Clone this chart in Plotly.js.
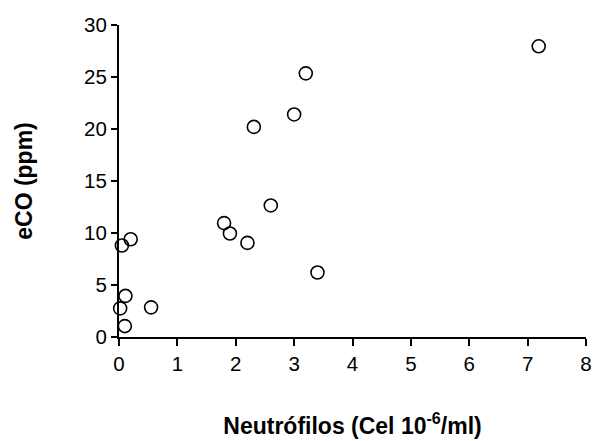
<!DOCTYPE html>
<html><head><meta charset="utf-8">
<script src="https://cdn.plot.ly/plotly-3.0.1.min.js"></script>
<style>html,body{margin:0;padding:0;background:#fff}#c{width:595px;height:441px}</style>
</head><body><div id="c"></div>
<script>
const neutrofilos = [7.19, 3.20, 3.00, 2.31, 2.60, 1.80, 1.90, 2.20, 3.40, 0.20, 0.05, 0.11, 0.02, 0.55, 0.10];
const eco = [27.95, 25.35, 21.4, 20.2, 12.65, 10.95, 9.95, 9.05, 6.2, 9.4, 8.8, 3.95, 2.75, 2.85, 1.05];
const xTicks = [0,1,2,3,4,5,6,7,8];
const yTicks = [0,5,10,15,20,25,30];

const trace = {
  x: neutrofilos, y: eco, type: 'scatter', mode: 'markers',
  cliponaxis: false,
  marker: {symbol: 'circle-open', size: 13, color: '#000', line: {width: 1.6, color: '#000'}},
  hoverinfo: 'skip'
};
const fam = 'Liberation Sans, Arial, sans-serif';
const layout = {
  width: 595, height: 441,
  margin: {l: 119, r: 9, t: 25, b: 104},
  paper_bgcolor: '#fff', plot_bgcolor: '#fff',
  showlegend: false,
  font: {family: fam, color: '#000', size: 20},
  xaxis: {
    range: [0, 8], tickvals: xTicks, ticktext: xTicks.map(String),
    showgrid: false, zeroline: false, showline: true, linewidth: 2, linecolor: '#000',
    ticks: 'outside', ticklen: 7, tickwidth: 2, tickcolor: '#000',
    tickfont: {size: 20.5, family: fam, color: '#000'},
    title: {text: '<b>Neutrófilos (Cel 10<sup>-6</sup>/ml)</b>', font: {size: 23, family: fam, color: '#000'}, standoff: 44}
  },
  yaxis: {
    range: [0, 30], tickvals: yTicks, ticktext: yTicks.map(String),
    showgrid: false, zeroline: false, showline: true, linewidth: 2, linecolor: '#000',
    ticks: 'outside', ticklen: 6, tickwidth: 2, tickcolor: '#000',
    tickfont: {size: 20.5, family: fam, color: '#000'},
    title: {text: '<b>eCO (ppm)</b>', font: {size: 23, family: fam, color: '#000'}, standoff: 45}
  }
};
Plotly.newPlot('c', [trace], layout, {displayModeBar: false, staticPlot: true});
</script></body></html>
